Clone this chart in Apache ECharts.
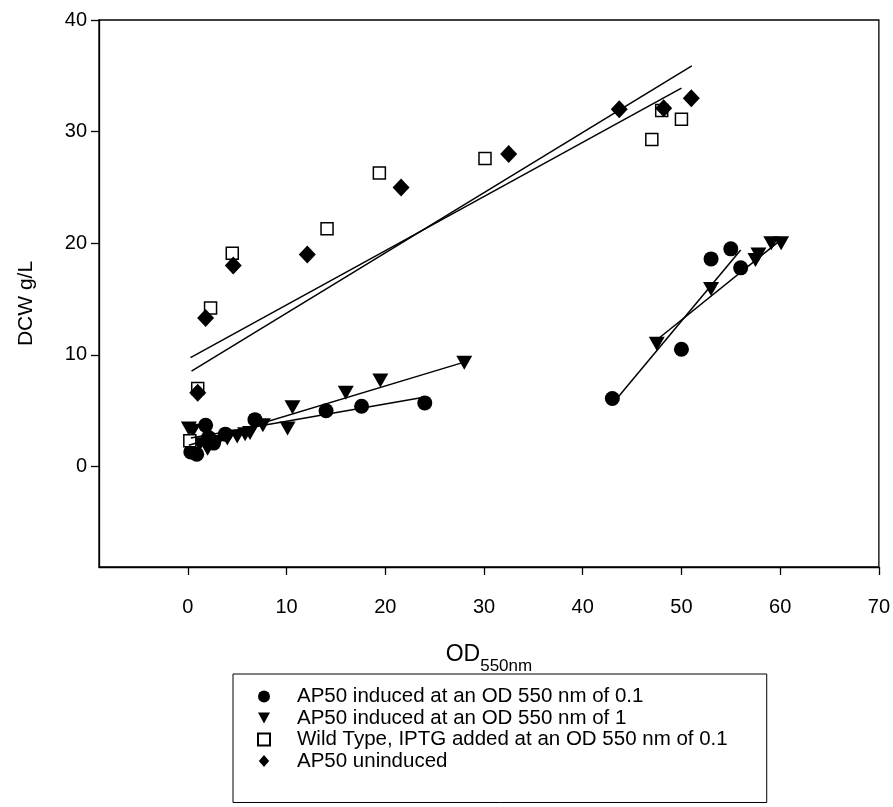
<!DOCTYPE html>
<html><head><meta charset="utf-8">
<script src="https://cdn.jsdelivr.net/npm/echarts@6/dist/echarts.min.js"></script>
<style>html,body{margin:0;padding:0;background:#fff}#c{width:893px;height:807px}</style>
</head><body><div id="c"></div>
<script>
// Series names (legend)
const seriesNames = [
  'AP50 induced at an OD 550 nm of 0.1',
  'AP50 induced at an OD 550 nm of 1',
  'Wild Type, IPTG added at an OD 550 nm of 0.1',
  'AP50 uninduced'
];
// AP50 induced at OD 0.1 (circles)
const circX = [0.3, 0.9, 1.8, 2.1, 2.6, 3.8, 6.8, 14.0, 17.6, 24.0, 43.0, 50.0, 53.0, 55.0, 56.0];
const circY = [1.3, 1.1, 3.7, 2.6, 2.1, 2.9, 4.2, 5.0, 5.4, 5.7, 6.1, 10.5, 18.6, 19.5, 17.8];
// AP50 induced at OD 1 (down triangles)
const triX = [0.1, 0.5, 1.2, 2.0, 3.0, 4.0, 5.0, 5.8, 6.3, 7.6, 10.1, 10.6, 16.0, 19.5, 28.0, 47.5, 53.0, 57.5, 57.8, 59.1, 60.1];
const triY = [3.4, 3.2, 2.0, 1.6, 2.2, 2.5, 2.7, 2.9, 3.0, 3.7, 3.4, 5.3, 6.6, 7.7, 9.3, 11.0, 15.9, 18.5, 19.0, 20.0, 20.0];
// Wild type (open squares)
const sqX = [0.2, 1.0, 2.3, 4.5, 14.1, 19.4, 30.1, 47.0, 48.0, 50.0];
const sqY = [2.3, 7.0, 14.2, 19.1, 21.3, 26.3, 27.6, 29.3, 31.9, 31.1];
// AP50 uninduced (diamonds)
const diaX = [1.0, 1.8, 4.6, 12.1, 21.6, 32.5, 43.7, 48.2, 51.0];
const diaY = [6.6, 13.3, 18.0, 19.0, 25.0, 28.0, 32.0, 32.1, 33.0];
// Regression line endpoints
const circFitLowX = [0.3, 23.9], circFitLowY = [2.55, 6.2];
const triFitLowX = [0.1, 28.0], triFitLowY = [1.9, 9.35];
const circFitHighX = [43.0, 56.0], circFitHighY = [5.6, 19.4];
const triFitHighX = [47.3, 60.2], triFitHighY = [11.2, 20.4];
const sqFitX = [0.27, 50.0], sqFitY = [9.75, 33.9];
const diaFitX = [0.37, 51.05], diaFitY = [8.55, 35.9];
// Tick values
const xTicks = [0, 10, 20, 30, 40, 50, 60, 70];
const yTicks = [0, 10, 20, 30, 40];

const zip = (a, b) => a.map((v, i) => [v, b[i]]);
const FONT = 'Liberation Sans, Arial, sans-serif';
const chart = echarts.init(document.getElementById('c'), null, {renderer: 'canvas'});

function fit(xs, ys) {
  return {
    type: 'line', data: zip(xs, ys), showSymbol: false, symbol: 'none',
    lineStyle: {color: '#000', width: 1.5}, silent: true, z: 3,
    legendHoverLink: false
  };
}

const option = {
  animation: false,
  backgroundColor: '#fff',
  textStyle: {fontFamily: FONT},
  grid: {left: 99, right: 12, top: 20, bottom: 240, show: true, borderColor: '#000', borderWidth: 1.3, backgroundColor: 'transparent'},
  xAxis: {
    type: 'value', min: -9, max: 70,
    axisLine: {show: true, onZero: false, lineStyle: {color: '#000', width: 1.3}},
    axisTick: {show: true, length: 8, customValues: xTicks, lineStyle: {color: '#000', width: 1.3}},
    axisLabel: {customValues: xTicks, color: '#000', fontSize: 20, margin: 30, fontFamily: FONT},
    splitLine: {show: false},
    name: '{a|OD}{b|550nm}', nameLocation: 'middle', nameGap: 76,
    nameTextStyle: {
      rich: {
        a: {fontSize: 23, color: '#000', fontFamily: FONT, padding: [0, 0, 9, 0], verticalAlign: 'bottom'},
        b: {fontSize: 17, color: '#000', fontFamily: FONT, verticalAlign: 'bottom'}
      }
    }
  },
  yAxis: {
    type: 'value', min: -9, max: 40,
    axisLine: {show: true, onZero: false, lineStyle: {color: '#000', width: 1.3}},
    axisTick: {show: true, length: 8, customValues: yTicks, lineStyle: {color: '#000', width: 1.3}},
    axisLabel: {customValues: yTicks, color: '#000', fontSize: 20, margin: 12, fontFamily: FONT},
    splitLine: {show: false},
    name: 'DCW g/L', nameLocation: 'middle', nameGap: 62,
    nameTextStyle: {fontSize: 21, color: '#000', fontFamily: FONT, padding: [0, 20, 0, 0]}
  },
  legend: {
    orient: 'vertical', left: 233, top: 674, height: 160,
    padding: [12, 39, 31, 24],
    itemWidth: 12, itemHeight: 12, itemGap: 0.5,
    borderColor: '#000', borderWidth: 1,
    data: [
      {name: seriesNames[0]},
      {name: seriesNames[1], icon: 'path://M0,0 L12,0 L6,11 Z'},
      {name: seriesNames[2]},
      {name: seriesNames[3], icon: 'path://M6,0 L12,7 L6,14 L0,7 Z'}
    ],
    textStyle: {fontSize: 20.5, color: '#000', fontFamily: FONT, padding: [0, 0, 0, 22]}
  },
  series: [
    {type: 'scatter', name: seriesNames[0], data: zip(circX, circY), symbol: 'circle', symbolSize: 15, itemStyle: {color: '#000', opacity: 1}},
    {type: 'scatter', name: seriesNames[1], data: zip(triX, triY), symbol: 'triangle', symbolRotate: 180, symbolSize: [16, 14], itemStyle: {color: '#000', opacity: 1}},
    {type: 'scatter', name: seriesNames[2], data: zip(sqX, sqY), symbol: 'rect', symbolSize: 12, itemStyle: {color: '#fff', borderColor: '#000', borderWidth: 1.5, opacity: 1}},
    {type: 'scatter', name: seriesNames[3], data: zip(diaX, diaY), symbol: 'diamond', symbolSize: [17, 18], itemStyle: {color: '#000', opacity: 1}},
    fit(circFitLowX, circFitLowY),
    fit(triFitLowX, triFitLowY),
    fit(circFitHighX, circFitHighY),
    fit(triFitHighX, triFitHighY),
    fit(sqFitX, sqFitY),
    fit(diaFitX, diaFitY)
  ]
};
chart.setOption(option);
</script></body></html>
